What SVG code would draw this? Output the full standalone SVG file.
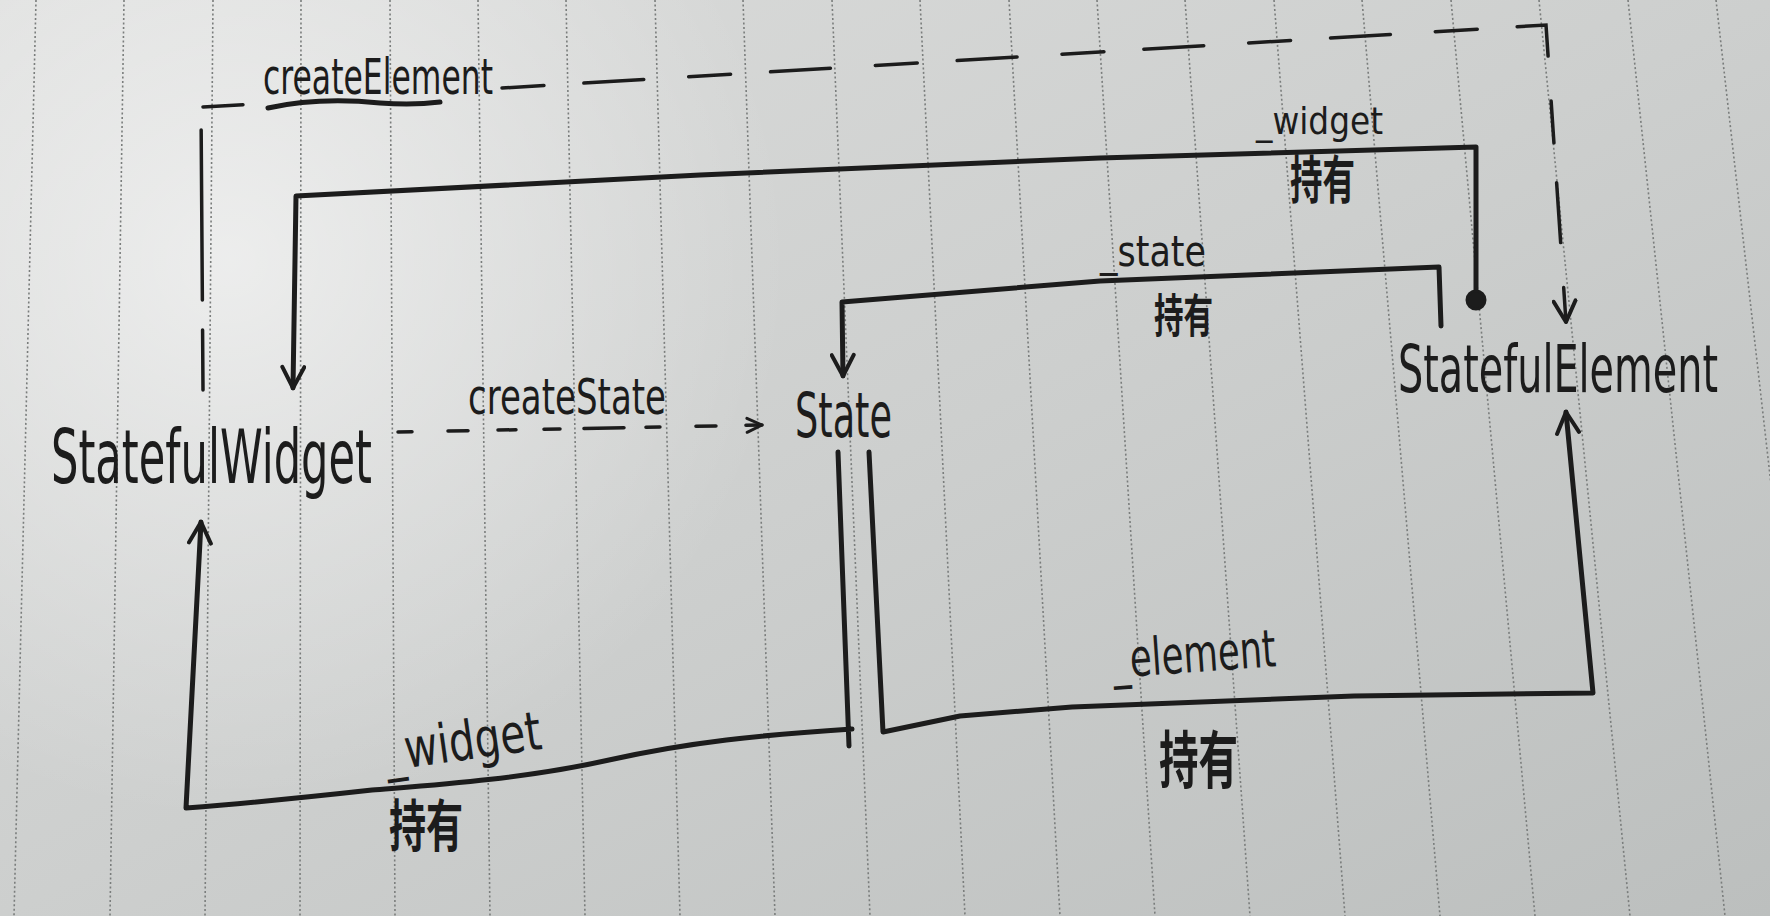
<svg xmlns="http://www.w3.org/2000/svg" width="1770" height="916" viewBox="0 0 1770 916">
<defs>
<linearGradient id="paper" x1="0" y1="0" x2="1" y2="1">
<stop offset="0" stop-color="#dcdddc"/>
<stop offset="0.5" stop-color="#cdcfce"/>
<stop offset="1" stop-color="#bcbfbe"/>
</linearGradient>
<radialGradient id="glow" cx="230" cy="260" r="560" gradientUnits="userSpaceOnUse">
<stop offset="0" stop-color="#ffffff" stop-opacity="0.55"/>
<stop offset="1" stop-color="#ffffff" stop-opacity="0"/>
</radialGradient>
<marker id="arr" markerUnits="userSpaceOnUse" markerWidth="30" markerHeight="26" viewBox="0 0 30 26" refX="24" refY="13" orient="auto">
<path d="M3,2 L24,13 L3,24" fill="none" stroke="#1c1c1c" stroke-width="4" stroke-linecap="round" stroke-linejoin="round"/>
</marker>
<marker id="arrs" markerUnits="userSpaceOnUse" markerWidth="22" markerHeight="20" viewBox="0 0 22 20" refX="18" refY="10" orient="auto">
<path d="M3,3 L18,10 L3,17" fill="none" stroke="#1c1c1c" stroke-width="3" stroke-linecap="round" stroke-linejoin="round"/>
</marker>
<style>
.rule{stroke:#7a7d7c;stroke-width:1.6;stroke-dasharray:2 2.5;fill:none}
.ink{fill:none;stroke:#1c1c1c;stroke-width:5;stroke-linecap:round;stroke-linejoin:round}
.dash{fill:none;stroke:#1c1c1c;stroke-width:3.5;stroke-linecap:round}
.t{font-family:"DejaVu Sans","Liberation Sans",sans-serif;fill:#1c1c1c}
.cjk{font-family:"Noto Sans CJK SC","Noto Sans CJK TC",sans-serif;fill:#1c1c1c;font-weight:bold}
</style>
</defs>
<g id="paper-bg">
<rect width="1770" height="916" fill="url(#paper)"/>
<rect width="1770" height="916" fill="url(#glow)"/>
<path class="rule" d="M36,0 L14,916 M124,0 L110,916 M213,0 L205,916 M301,0 L300,916 M390,0 L395,916 M478,0 L490,916 M566,0 L585,916 M655,0 L680,916 M743,0 L775,916 M832,0 L870,916 M920,0 L965,916 M1009,0 L1060,916 M1097,0 L1155,916 M1185,0 L1250,916 M1274,0 L1345,916 M1362,0 L1440,916 M1451,0 L1535,916 M1539,0 L1630,916 M1628,0 L1725,916 M1716,0 L1820,916"/>
</g>
<g id="connectors">
<!-- createElement: StatefulWidget -> StatefulElement (dashed) -->
<path id="c-createElement" class="dash" d="M203,390 L201,107 L256,104" stroke-dasharray="60 30 170 25 40 20"/>
<path id="c-createElement-2" class="dash" d="M502,88 L1546,25 L1566,322" stroke-dasharray="42 40 60 45" marker-end="url(#arr)"/>
<!-- underline of createElement -->
<path class="ink" d="M268,108 C300,101 340,99 380,103 C405,105 425,104 440,102" stroke-width="4"/>
<!-- _widget top: StatefulElement holds StatefulWidget -->
<path id="c-widget-top" class="ink" d="M1476,300 L1476,147 L1100,158 L700,175 L296,196 L293,388" marker-end="url(#arr)"/>
<circle cx="1476" cy="300" r="9" fill="#1c1c1c" stroke="#1c1c1c" stroke-width="3"/>
<!-- _state: StatefulElement holds State -->
<path id="c-state" class="ink" d="M1441,326 L1439,267 L1100,281 L842,302 L843,376" marker-end="url(#arr)"/>
<!-- createState dashed -->
<path id="c-createState" class="dash" d="M398,432 L762,425" stroke-dasharray="14 36 20 30 18 28 16 24 40 22" marker-end="url(#arrs)"/>
<!-- _widget bottom: State holds StatefulWidget -->
<path id="c-widget-bottom" class="ink" d="M838,452 L849,746 M852,729 C760,735 690,742 609,760 C520,780 420,786 372,790 C300,798 250,803 186,808 L201,522" marker-end="url(#arr)"/>
<!-- _element: State holds StatefulElement -->
<path id="c-element" class="ink" d="M869,452 L883,732 L960,716 L1072,707 L1354,696 L1593,693 L1566,412" marker-end="url(#arr)"/>
</g>
<g id="node-statefulwidget">
<text class="t" x="51" y="483" font-size="74" textLength="321" lengthAdjust="spacingAndGlyphs">StatefulWidget</text>
</g>
<g id="node-state">
<text class="t" x="795" y="437" font-size="62" textLength="97" lengthAdjust="spacingAndGlyphs">State</text>
</g>
<g id="node-statefulelement">
<text class="t" x="1398" y="392" font-size="66" textLength="320" lengthAdjust="spacingAndGlyphs">StatefulElement</text>
</g>
<g id="labels">
<text class="t" x="263" y="94" font-size="50" textLength="230" lengthAdjust="spacingAndGlyphs">createElement</text>
<text class="t" x="468" y="414" font-size="50" textLength="198" lengthAdjust="spacingAndGlyphs">createState</text>
<text class="t" x="1256" y="134" font-size="38" textLength="127" lengthAdjust="spacingAndGlyphs">_widget</text>
<text class="cjk" x="1290" y="199" font-size="52" textLength="65" lengthAdjust="spacingAndGlyphs">持有</text>
<text class="t" x="1100" y="266" font-size="42" textLength="106" lengthAdjust="spacingAndGlyphs">_state</text>
<text class="cjk" x="1154" y="332" font-size="46" textLength="59" lengthAdjust="spacingAndGlyphs">持有</text>
<text class="t" x="384" y="760" font-size="54" textLength="158" lengthAdjust="spacingAndGlyphs" transform="rotate(-8 463 745)">_widget</text>
<text class="cjk" x="389" y="846" font-size="56" textLength="74" lengthAdjust="spacingAndGlyphs">持有</text>
<text class="t" x="1112" y="672" font-size="52" textLength="164" lengthAdjust="spacingAndGlyphs" transform="rotate(-4 1194 655)">_element</text>
<text class="cjk" x="1159" y="783" font-size="62" textLength="79" lengthAdjust="spacingAndGlyphs">持有</text>
</g>
</svg>
